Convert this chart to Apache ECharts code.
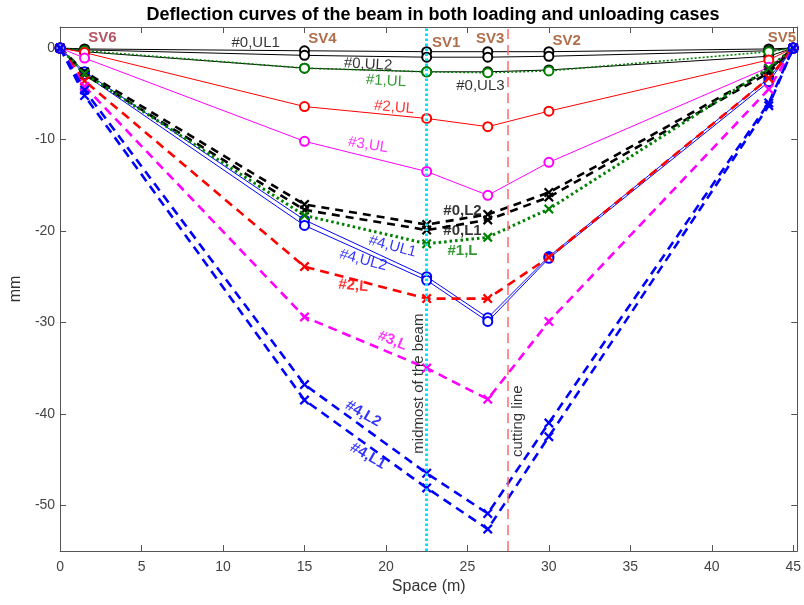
<!DOCTYPE html>
<html><head><meta charset="utf-8">
<script src="https://cdn.jsdelivr.net/npm/echarts@6/dist/echarts.min.js"></script>
<style>html,body{margin:0;padding:0;background:#fff}#c{width:804px;height:605px}</style>
</head><body><div id="c"></div>
<script>
// ---- data ----
const xs = [0, 1.5, 15, 22.5, 26.25, 30, 43.5, 45];
const xTicks = [0, 5, 10, 15, 20, 25, 30, 35, 40, 45];
const yTicks = [0, -10, -20, -30, -40, -50];

const ul01 = [0, -0.1, -0.3, -0.4, -0.4, -0.4, -0.1, 0];
const ul02 = [0, -0.2, -0.8, -1.0, -1.0, -0.9, -0.3, 0];
const ul03 = [0, -0.4, -2.2, -2.6, -2.6, -2.4, -0.9, 0];
const ul1  = [0, -0.3, -2.2, -2.6, -2.7, -2.5, -0.4, 0];
const ul2  = [0, -0.5, -6.4, -7.7, -8.6, -6.9, -1.3, 0];
const ul3  = [0, -1.1, -10.2, -13.5, -16.1, -12.5, -2.1, 0];
const ul41 = [0, -2.6, -18.8, -25.0, -29.5, -22.8, -3.3, 0];
const ul42 = [0, -2.9, -19.4, -25.4, -29.9, -23.0, -3.7, 0];

const l01 = [0, -2.9, -17.7, -19.9, -18.8, -16.3, -2.7, 0];
const l02 = [0, -2.6, -17.1, -19.3, -18.2, -15.8, -2.4, 0];
const l1  = [0, -2.8, -18.3, -21.4, -20.7, -17.6, -2.2, 0];
const l2  = [0, -3.6, -23.9, -27.4, -27.4, -22.9, -3.3, 0];
const l3  = [0, -4.2, -29.4, -35.0, -38.4, -29.9, -4.5, 0];
const l41 = [0, -5.2, -38.5, -48.1, -52.6, -42.5, -6.3, 0];
const l42 = [0, -4.6, -36.8, -46.5, -50.9, -41.0, -6.0, 0];

const midX = 22.5;   // midmost of the beam
const cutX = 27.5;   // cutting line

const svNames = ['SV6', 'SV4', 'SV1', 'SV3', 'SV2', 'SV5'];
const svX = [2.6, 16.1, 23.7, 26.4, 31.1, 44.3];
const svY = [1.1, 1.0, 0.6, 1.0, 0.8, 1.1];

const annText = ['#0,UL1', '#0,UL2', '#1,UL', '#0,UL3', '#2,UL', '#3,UL', '#0,L2', '#0,L1', '#1,L',
  '#4,UL1', '#4,UL2', '#2,L', '#3,L', '#4,L2', '#4,L1', 'midmost of the beam', 'cutting line'];
const annX = [12.0, 18.9, 20.0, 25.8, 20.5, 18.9, 24.7, 24.7, 24.7, 20.4, 18.6, 18.0, 20.4, 18.6, 18.9, 22.0, 28.1];
const annY = [0.6, -1.8, -3.6, -4.1, -6.5, -10.6, -17.8, -20.0, -22.2, -21.7, -23.2, -26.0, -32.0, -40.0, -44.6, -36.7, -40.8];

// ---- styles ----
const FONT = 'Liberation Sans, Arial, Helvetica, sans-serif';
const XMARK = 'path://M0,1.6L1.6,0L5,3.4L8.4,0L10,1.6L6.6,5L10,8.4L8.4,10L5,6.6L1.6,10L0,8.4L3.4,5Z';
const annColor = ['#000', '#000', '#008000', '#000', '#ff0000', '#ff00ff', '#000', '#000', '#008000',
  '#0000ff', '#0000ff', '#ff0000', '#ff00ff', '#0000ff', '#0000ff', '#000', '#000'];
const annBold = [0,0,0,0,0,0,1,1,1,0,0,1,1,1,1,0,0];
const annRot = [0, -3, -3, 0, -5, -9, 0, 0, 0, -15, -15, -5, -22, -30, -30, 90, 90];
const svColor = ['#a3283a', '#9c4a1e', '#9c4a1e', '#9c4a1e', '#9c4a1e', '#9c4a1e'];

function pts(v) { return xs.map((x, i) => [x, v[i]]); }

function ulSeries(name, v, color, dotted) {
  return {
    name, type: 'line', data: pts(v), symbol: 'emptyCircle', symbolSize: 9,
    lineStyle: { color, width: dotted ? 1.6 : 1, type: dotted ? [2, 2] : 'solid' },
    itemStyle: { color, borderColor: color, borderWidth: 1 }, z: 3
  };
}
function lSeries(name, v, color, type, width) {
  return {
    name, type: 'line', data: pts(v), symbol: XMARK, symbolSize: 10,
    lineStyle: { color, width: width || 2.6, type: type || [9, 6] },
    itemStyle: { color }, z: 4
  };
}

const series = [
  ulSeries('#0,UL1', ul01, '#000'),
  ulSeries('#0,UL2', ul02, '#000'),
  ulSeries('#0,UL3', ul03, '#000'),
  ulSeries('#1,UL', ul1, '#008000', true),
  ulSeries('#2,UL', ul2, '#ff0000'),
  ulSeries('#3,UL', ul3, '#ff00ff'),
  ulSeries('#4,UL1', ul41, '#0000ff'),
  ulSeries('#4,UL2', ul42, '#0000ff'),
  lSeries('#0,L1', l01, '#000', [8, 6]),
  lSeries('#0,L2', l02, '#000', [8, 6]),
  lSeries('#1,L', l1, '#008000', [2.5, 3], 3),
  lSeries('#2,L', l2, '#ff0000'),
  lSeries('#3,L', l3, '#ff00ff'),
  lSeries('#4,L1', l41, '#0000ff'),
  lSeries('#4,L2', l42, '#0000ff'),
  {
    type: 'line', data: [], silent: true,
    markLine: {
      symbol: 'none', silent: true, label: { show: false }, animation: false,
      data: [
        { xAxis: midX, lineStyle: { color: '#00e5ff', width: 3, type: [2.5, 2.5] } },
        { xAxis: cutX, lineStyle: { color: '#ff6a6a', width: 1.5, type: [10, 6] } }
      ]
    }, z: 2
  },
  {
    type: 'scatter', symbolSize: 0, silent: true, z: 10,
    data: svNames.map((n, i) => ({
      value: [svX[i], svY[i]],
      label: { show: true, position: 'inside', formatter: n, color: svColor[i], fontWeight: 'bold', fontSize: 15, fontFamily: FONT }
    }))
  },
  {
    type: 'scatter', symbolSize: 0, silent: true, z: 10,
    data: annText.map((t, i) => ({
      value: [annX[i], annY[i]],
      label: { show: true, position: 'inside', formatter: t, color: annColor[i], rotate: annRot[i],
        fontWeight: annBold[i] ? 'bold' : 'normal', fontSize: 15, fontFamily: FONT }
    }))
  }
];

const axisCommon = {
  axisLine: { show: true, onZero: false, lineStyle: { color: '#555', width: 1 } },
  splitLine: { show: false }
};

const option = {
  animation: false,
  title: {
    text: 'Deflection curves of the beam in both loading and unloading cases',
    left: 428, top: 1, textAlign: 'center',
    textStyle: { fontFamily: FONT, fontSize: 18, fontWeight: 'bold', color: '#000' }
  },
  grid: { left: 58, right: 5, top: 27, bottom: 54 },
  xAxis: [
    Object.assign({}, axisCommon, {
      type: 'value', min: 0, max: 45.25, position: 'bottom',
      name: 'Space (m)', nameLocation: 'middle', nameGap: 27,
      nameTextStyle: { fontFamily: FONT, fontSize: 16, color: '#333' },
      axisTick: { inside: true, length: 6, customValues: xTicks, lineStyle: { color: '#555' } },
      axisLabel: { customValues: xTicks, fontFamily: FONT, fontSize: 14, color: '#444', margin: 9 }
    }),
    Object.assign({}, axisCommon, {
      type: 'value', min: 0, max: 45.25, position: 'top',
      axisTick: { inside: true, length: 6, customValues: xTicks, lineStyle: { color: '#555' } },
      axisLabel: { show: false }
    })
  ],
  yAxis: [
    Object.assign({}, axisCommon, {
      type: 'value', min: -55, max: 2.3, position: 'left',
      name: 'mm', nameLocation: 'middle', nameGap: 32,
      nameTextStyle: { fontFamily: FONT, fontSize: 16, color: '#333' },
      axisTick: { inside: true, length: 6, customValues: yTicks, lineStyle: { color: '#555' } },
      axisLabel: { customValues: yTicks, fontFamily: FONT, fontSize: 14, color: '#444', margin: 5 }
    }),
    Object.assign({}, axisCommon, {
      type: 'value', min: -55, max: 2.3, position: 'right',
      axisTick: { inside: true, length: 6, customValues: yTicks, lineStyle: { color: '#555' } },
      axisLabel: { show: false }
    })
  ],
  series
};

const chart = echarts.init(document.getElementById('c'), null, { renderer: 'canvas' });
chart.setOption(option);
</script>
</body></html>
